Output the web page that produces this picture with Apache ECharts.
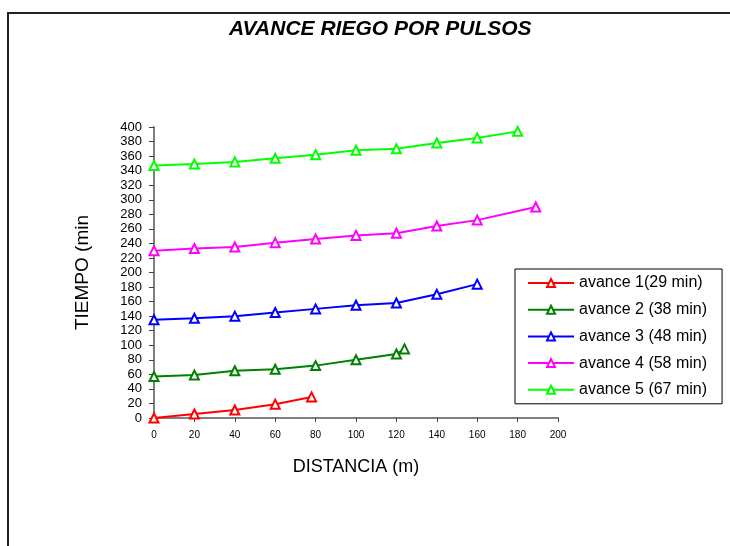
<!DOCTYPE html>
<html>
<head>
<meta charset="utf-8">
<script src="https://cdn.jsdelivr.net/npm/echarts@6/dist/echarts.min.js"></script>
<style>
  html, body { margin: 0; padding: 0; background: #ffffff; }
  #chart { width: 730px; height: 546px; }
</style>
</head>
<body>
<div id="chart"></div>
<script>
// Distances (m) reached by each pulse
const dist1 = [0, 20, 40, 60, 78];
const dist2 = [0, 20, 40, 60, 80, 100, 120, 124];
const dist3 = [0, 20, 40, 60, 80, 100, 120, 140, 160];
const dist4 = [0, 20, 40, 60, 80, 100, 120, 140, 160, 189];
const dist5 = [0, 20, 40, 60, 80, 100, 120, 140, 160, 180];

// Elapsed time (min) at each distance
const time1 = [0, 5.5, 11, 19, 29];
const time2 = [57, 59, 65, 67, 72, 80, 88, 95];
const time3 = [135, 137, 140, 145, 150, 155, 158, 170, 184];
const time4 = [230, 233, 235, 241, 246, 251, 254, 264, 272, 290];
const time5 = [347, 349, 352, 357, 362, 368, 370, 378, 385, 394];

const seriesNames = [
  'avance 1(29 min)',
  'avance 2 (38 min)',
  'avance 3 (48 min)',
  'avance 4 (58 min)',
  'avance 5 (67 min)'
];
const seriesColors = ['#FF0000', '#008000', '#0000FF', '#FF00FF', '#00FF00'];
const distances = [dist1, dist2, dist3, dist4, dist5];
const times = [time1, time2, time3, time4, time5];

const titleText = 'AVANCE RIEGO POR PULSOS';
const xTitle = 'DISTANCIA (m)';
const yTitle = 'TIEMPO (min';

const FONT = 'Liberation Sans, Arial, sans-serif';

const series = seriesNames.map((name, i) => ({
  name: name,
  type: 'line',
  data: distances[i].map((d, j) => [d, times[i][j]]),
  symbol: 'triangle',
  symbolSize: 9,
  showAllSymbol: true,
  lineStyle: { color: seriesColors[i], width: 2 },
  itemStyle: { color: '#ffffff', borderColor: seriesColors[i], borderWidth: 2 },
  color: seriesColors[i],
  emphasis: { disabled: true },
  animation: false
}));

const chart = echarts.init(document.getElementById('chart'), null, { renderer: 'canvas' });
chart.setOption({
  backgroundColor: '#ffffff',
  animation: false,
  graphic: [{
    type: 'rect',
    shape: { x: 8, y: 13, width: 900, height: 700 },
    style: { fill: 'none', stroke: '#222222', lineWidth: 2 },
    silent: true,
    z: -1
  }],
  title: {
    text: titleText,
    left: 229,
    top: 19,
    padding: 0,
    textStyle: { fontFamily: FONT, fontSize: 21, fontWeight: 'bold', fontStyle: 'italic', color: '#000000' }
  },
  legend: {
    orient: 'vertical',
    left: 515,
    top: 269,
    padding: [6, 15, 6, 12],
    itemWidth: 46,
    itemHeight: 10,
    itemGap: 10.7,
    borderColor: '#000000',
    borderWidth: 1,
    backgroundColor: '#ffffff',
    selectedMode: false,
    textStyle: { fontFamily: FONT, fontSize: 16, color: '#000000', lineHeight: 16 },
    data: seriesNames
  },
  grid: { left: 154, top: 127, width: 404, height: 291, containLabel: false },
  xAxis: {
    type: 'value',
    min: 0,
    max: 200,
    interval: 20,
    name: xTitle,
    nameLocation: 'middle',
    nameGap: 40,
    nameTextStyle: { fontFamily: FONT, fontSize: 18, color: '#000000' },
    axisLine: { show: true, lineStyle: { color: '#808080', width: 2 } },
    axisTick: { show: true, length: 4, lineStyle: { color: '#404040', width: 1 } },
    axisLabel: { margin: 12, fontFamily: FONT, fontSize: 10, color: '#000000' },
    splitLine: { show: false }
  },
  yAxis: {
    type: 'value',
    min: 0,
    max: 400,
    interval: 20,
    name: yTitle,
    nameLocation: 'middle',
    nameGap: 62,
    nameTextStyle: { fontFamily: FONT, fontSize: 19, color: '#000000' },
    axisLine: { show: true, lineStyle: { color: '#808080', width: 2 } },
    axisTick: { show: true, length: 5, lineStyle: { color: '#404040', width: 1 } },
    axisLabel: { margin: 12, fontFamily: FONT, fontSize: 13, color: '#000000' },
    splitLine: { show: false }
  },
  series: series
});
</script>
</body>
</html>
